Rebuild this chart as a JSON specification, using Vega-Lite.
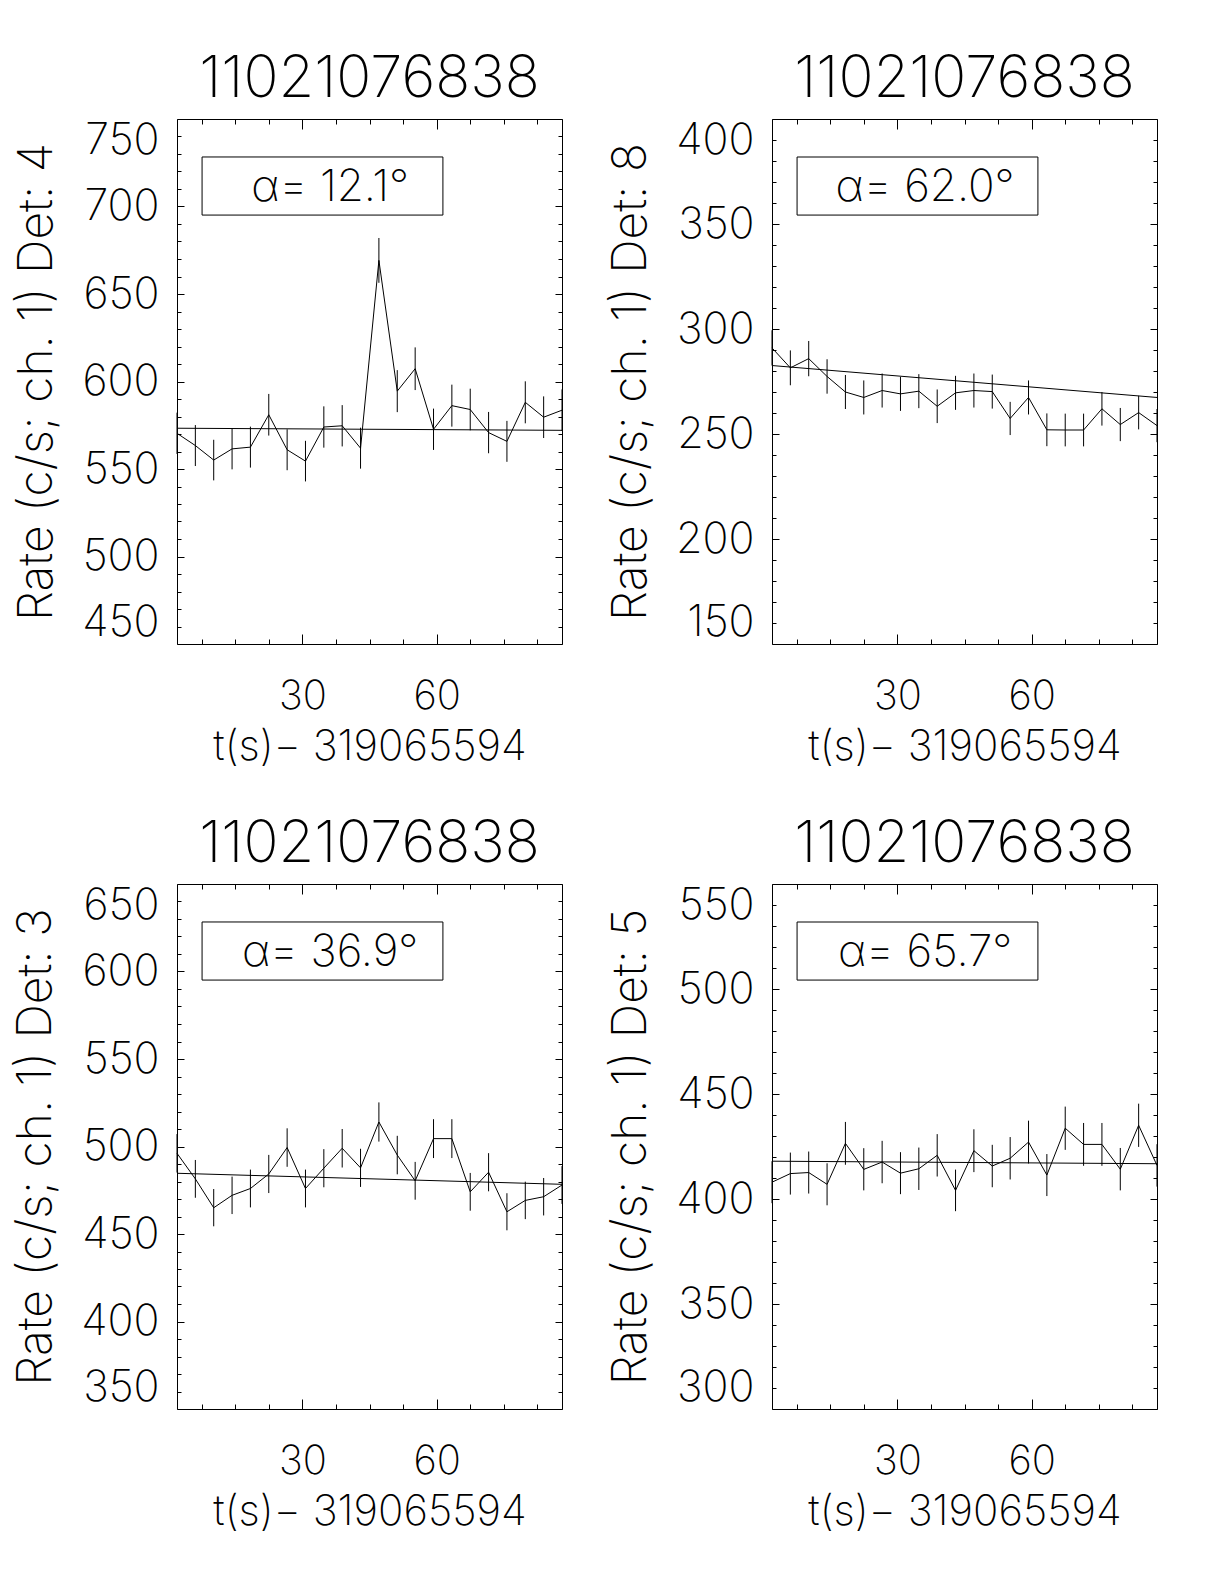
{
  "$schema": "https://vega.github.io/schema/vega-lite/v6.json",
  "background": "white",
  "padding": {"left": 12, "top": 50, "right": 5, "bottom": 5},
  "datasets": {
    "p1": [
      {"t": 2.0, "rate": 570.4, "lo": 558.6, "hi": 582.2},
      {"t": 6.1, "rate": 563.4, "lo": 551.7, "hi": 575.1},
      {"t": 10.2, "rate": 555.1, "lo": 543.5, "hi": 566.7},
      {"t": 14.3, "rate": 561.5, "lo": 549.8, "hi": 573.2},
      {"t": 18.4, "rate": 562.5, "lo": 550.8, "hi": 574.2},
      {"t": 22.5, "rate": 581.0, "lo": 569.1, "hi": 592.9},
      {"t": 26.6, "rate": 561.0, "lo": 549.3, "hi": 572.7},
      {"t": 30.7, "rate": 554.5, "lo": 542.9, "hi": 566.1},
      {"t": 34.8, "rate": 574.0, "lo": 562.2, "hi": 585.8},
      {"t": 38.9, "rate": 574.7, "lo": 562.9, "hi": 586.5},
      {"t": 43.0, "rate": 561.9, "lo": 550.2, "hi": 573.6},
      {"t": 47.1, "rate": 669.2, "lo": 656.4, "hi": 682.0},
      {"t": 51.2, "rate": 594.5, "lo": 582.5, "hi": 606.5},
      {"t": 55.2, "rate": 607.3, "lo": 595.1, "hi": 619.5},
      {"t": 59.3, "rate": 572.7, "lo": 560.9, "hi": 584.5},
      {"t": 63.4, "rate": 586.2, "lo": 574.2, "hi": 598.2},
      {"t": 67.5, "rate": 584.0, "lo": 572.1, "hi": 595.9},
      {"t": 71.6, "rate": 570.8, "lo": 559.0, "hi": 582.6},
      {"t": 75.7, "rate": 565.8, "lo": 554.1, "hi": 577.5},
      {"t": 79.8, "rate": 588.1, "lo": 576.1, "hi": 600.1},
      {"t": 83.9, "rate": 579.6, "lo": 567.7, "hi": 591.5},
      {"t": 88.0, "rate": 583.6, "lo": 571.7, "hi": 595.5}
    ],
    "p2": [
      {"t": 2.0, "rate": 291.0, "lo": 282.6, "hi": 299.4},
      {"t": 6.1, "rate": 281.5, "lo": 273.2, "hi": 289.8},
      {"t": 10.2, "rate": 285.9, "lo": 277.5, "hi": 294.3},
      {"t": 14.3, "rate": 277.4, "lo": 269.2, "hi": 285.6},
      {"t": 18.4, "rate": 270.0, "lo": 261.9, "hi": 278.1},
      {"t": 22.5, "rate": 267.4, "lo": 259.3, "hi": 275.5},
      {"t": 26.6, "rate": 270.7, "lo": 262.6, "hi": 278.8},
      {"t": 30.7, "rate": 269.1, "lo": 261.0, "hi": 277.2},
      {"t": 34.8, "rate": 270.4, "lo": 262.3, "hi": 278.5},
      {"t": 38.9, "rate": 263.2, "lo": 255.2, "hi": 271.2},
      {"t": 43.0, "rate": 269.6, "lo": 261.5, "hi": 277.7},
      {"t": 47.1, "rate": 270.7, "lo": 262.6, "hi": 278.8},
      {"t": 51.2, "rate": 270.2, "lo": 262.1, "hi": 278.3},
      {"t": 55.2, "rate": 257.4, "lo": 249.5, "hi": 265.3},
      {"t": 59.3, "rate": 267.4, "lo": 259.3, "hi": 275.5},
      {"t": 63.4, "rate": 252.0, "lo": 244.2, "hi": 259.8},
      {"t": 67.5, "rate": 251.9, "lo": 244.1, "hi": 259.7},
      {"t": 71.6, "rate": 251.9, "lo": 244.1, "hi": 259.7},
      {"t": 75.7, "rate": 262.0, "lo": 254.0, "hi": 270.0},
      {"t": 79.8, "rate": 254.5, "lo": 246.6, "hi": 262.4},
      {"t": 83.9, "rate": 260.2, "lo": 252.2, "hi": 268.2},
      {"t": 88.0, "rate": 254.0, "lo": 246.1, "hi": 261.9}
    ],
    "p3": [
      {"t": 2.0, "rate": 496.1, "lo": 485.1, "hi": 507.1},
      {"t": 6.1, "rate": 481.5, "lo": 470.7, "hi": 492.3},
      {"t": 10.2, "rate": 465.0, "lo": 454.4, "hi": 475.7},
      {"t": 14.3, "rate": 472.1, "lo": 461.4, "hi": 482.8},
      {"t": 18.4, "rate": 476.0, "lo": 465.2, "hi": 486.8},
      {"t": 22.5, "rate": 484.3, "lo": 473.4, "hi": 495.2},
      {"t": 26.6, "rate": 499.4, "lo": 488.4, "hi": 510.4},
      {"t": 30.7, "rate": 476.0, "lo": 465.2, "hi": 486.8},
      {"t": 34.8, "rate": 487.6, "lo": 476.7, "hi": 498.5},
      {"t": 38.9, "rate": 499.0, "lo": 488.0, "hi": 510.0},
      {"t": 43.0, "rate": 487.8, "lo": 476.9, "hi": 498.7},
      {"t": 47.1, "rate": 514.0, "lo": 502.8, "hi": 525.2},
      {"t": 51.2, "rate": 495.1, "lo": 484.1, "hi": 506.1},
      {"t": 55.2, "rate": 480.4, "lo": 469.6, "hi": 491.2},
      {"t": 59.3, "rate": 504.5, "lo": 493.4, "hi": 515.6},
      {"t": 63.4, "rate": 504.5, "lo": 493.4, "hi": 515.6},
      {"t": 67.5, "rate": 474.1, "lo": 463.3, "hi": 484.9},
      {"t": 71.6, "rate": 485.3, "lo": 474.4, "hi": 496.2},
      {"t": 75.7, "rate": 462.7, "lo": 452.1, "hi": 473.3},
      {"t": 79.8, "rate": 469.2, "lo": 458.5, "hi": 479.9},
      {"t": 83.9, "rate": 471.3, "lo": 460.6, "hi": 482.0},
      {"t": 88.0, "rate": 478.0, "lo": 467.2, "hi": 488.8}
    ],
    "p4": [
      {"t": 2.0, "rate": 408.0, "lo": 398.0, "hi": 418.0},
      {"t": 6.1, "rate": 412.1, "lo": 402.1, "hi": 422.1},
      {"t": 10.2, "rate": 412.6, "lo": 402.6, "hi": 422.6},
      {"t": 14.3, "rate": 407.0, "lo": 397.0, "hi": 417.0},
      {"t": 18.4, "rate": 426.5, "lo": 416.3, "hi": 436.7},
      {"t": 22.5, "rate": 414.1, "lo": 404.1, "hi": 424.2},
      {"t": 26.6, "rate": 417.6, "lo": 407.5, "hi": 427.7},
      {"t": 30.7, "rate": 412.3, "lo": 402.3, "hi": 422.3},
      {"t": 34.8, "rate": 414.4, "lo": 404.3, "hi": 424.5},
      {"t": 38.9, "rate": 420.8, "lo": 410.7, "hi": 430.9},
      {"t": 43.0, "rate": 404.1, "lo": 394.2, "hi": 414.0},
      {"t": 47.1, "rate": 423.0, "lo": 412.8, "hi": 433.2},
      {"t": 51.2, "rate": 415.7, "lo": 405.6, "hi": 425.8},
      {"t": 55.2, "rate": 419.4, "lo": 409.3, "hi": 429.5},
      {"t": 59.3, "rate": 427.1, "lo": 416.9, "hi": 437.3},
      {"t": 63.4, "rate": 411.4, "lo": 401.4, "hi": 421.4},
      {"t": 67.5, "rate": 433.7, "lo": 423.4, "hi": 444.0},
      {"t": 71.6, "rate": 426.0, "lo": 415.8, "hi": 436.2},
      {"t": 75.7, "rate": 426.0, "lo": 415.8, "hi": 436.2},
      {"t": 79.8, "rate": 414.2, "lo": 404.1, "hi": 424.3},
      {"t": 83.9, "rate": 435.1, "lo": 424.8, "hi": 445.4},
      {"t": 88.0, "rate": 416.0, "lo": 405.9, "hi": 426.1}
    ],
    "f1": [{"t": 2.0, "v": 573.3}, {"t": 88.0, "v": 572.1}],
    "f2": [{"t": 2.0, "v": 282.6}, {"t": 88.0, "v": 267.4}],
    "f3": [{"t": 2.0, "v": 484.7}, {"t": 88.0, "v": 478.4}],
    "f4": [{"t": 2.0, "v": 418.0}, {"t": 88.0, "v": 416.8}]
  },
  "config": {
    "view": {"stroke": "#000", "strokeWidth": 1},
    "axis": {"domain": false, "grid": false, "tickColor": "#000", "tickWidth": 1, "labelColor": "#000", "titleColor": "#000", "labelFont": "Inter", "titleFont": "Inter", "labelFontWeight": 200, "titleFontWeight": 200, "labelFontSize": 43, "titleFontSize": 48},
    "axisBottom": {"labelFontSize": 40, "titleFontSize": 42},
    "title": {"font": "Inter", "fontWeight": 200, "fontSize": 58, "color": "#000", "anchor": "middle", "frame": "group", "offset": 10},
    "text": {"font": "Inter", "fontWeight": 200, "fontSize": 44, "color": "#000"}
  },
  "vconcat": [
    {"hconcat": [
      {"width": 385, "height": 525, "title": "11021076838", "data": {"name": "p1"},
       "resolve": {"axis": {"x": "independent", "y": "independent"}},
       "layer": [
        {"mark": {"type": "line", "color": "#000", "strokeWidth": 1},
         "encoding": {
          "x": {"field": "t", "type": "quantitative", "scale": {"domain": [2, 88], "nice": false, "zero": false}, "axis": {"orient": "bottom", "values": [30, 60], "tickSize": -10, "labelPadding": 42, "title": "t(s)− 319065594", "titlePadding": 10}},
          "y": {"field": "rate", "type": "quantitative", "scale": {"domain": [450, 750], "nice": false, "zero": false}, "axis": {"orient": "left", "values": [450, 500, 550, 600, 650, 700, 750], "tickSize": -7, "labelPadding": 25, "labelFlush": true, "title": "Rate (c/s; ch. 1) Det: 4", "titlePadding": 20}}}},
        {"mark": {"type": "rule", "color": "#000", "strokeWidth": 1},
         "encoding": {
          "x": {"field": "t", "type": "quantitative", "scale": {"domain": [2, 88], "nice": false, "zero": false}, "axis": {"orient": "bottom", "values": [7.5, 15, 22.5, 37.5, 45, 52.5, 67.5, 75, 82.5], "tickSize": -5, "labels": false, "title": null}},
          "y": {"field": "lo", "type": "quantitative", "scale": {"domain": [450, 750], "nice": false, "zero": false}, "axis": {"orient": "left", "values": [460, 470, 480, 490, 510, 520, 530, 540, 560, 570, 580, 590, 610, 620, 630, 640, 660, 670, 680, 690, 710, 720, 730, 740], "tickSize": -4, "labels": false, "title": null}},
          "y2": {"field": "hi"}}},
        {"data": {"name": "f1"}, "mark": {"type": "line", "color": "#000", "strokeWidth": 1},
         "encoding": {
          "x": {"field": "t", "type": "quantitative", "scale": {"domain": [2, 88], "nice": false, "zero": false}, "axis": {"orient": "top", "values": [30, 60], "tickSize": -10, "labels": false, "title": null}},
          "y": {"field": "v", "type": "quantitative", "scale": {"domain": [450, 750], "nice": false, "zero": false}, "axis": {"orient": "right", "values": [450, 500, 550, 600, 650, 700, 750], "tickSize": -7, "labels": false, "title": null}}}},
        {"data": {"values": [{"label": "box"}]}, "mark": {"type": "rect", "fill": "white", "fillOpacity": 0, "stroke": "#000", "strokeWidth": 1},
         "encoding": {
          "x": {"datum": 7.6, "type": "quantitative", "scale": {"domain": [2, 88], "nice": false, "zero": false}, "axis": {"orient": "top", "values": [7.5, 15, 22.5, 37.5, 45, 52.5, 67.5, 75, 82.5], "tickSize": -5, "labels": false, "title": null}},
          "x2": {"datum": 61.4},
          "y": {"datum": 728.3, "type": "quantitative", "scale": {"domain": [450, 750], "nice": false, "zero": false}, "axis": {"orient": "right", "values": [460, 470, 480, 490, 510, 520, 530, 540, 560, 570, 580, 590, 610, 620, 630, 640, 660, 670, 680, 690, 710, 720, 730, 740], "tickSize": -4, "labels": false, "title": null}},
          "y2": {"datum": 695.1}}},
        {"data": {"values": [{"label": "α= 12.1°"}]}, "mark": {"type": "text", "align": "center", "baseline": "middle"},
         "encoding": {
          "x": {"datum": 36.2, "type": "quantitative", "scale": {"domain": [2, 88], "nice": false, "zero": false}, "axis": null},
          "y": {"datum": 710.4, "type": "quantitative", "scale": {"domain": [450, 750], "nice": false, "zero": false}, "axis": null},
          "text": {"field": "label"}}}
       ]},
      {"width": 385, "height": 525, "title": "11021076838", "data": {"name": "p2"},
       "resolve": {"axis": {"x": "independent", "y": "independent"}},
       "layer": [
        {"mark": {"type": "line", "color": "#000", "strokeWidth": 1},
         "encoding": {
          "x": {"field": "t", "type": "quantitative", "scale": {"domain": [2, 88], "nice": false, "zero": false}, "axis": {"orient": "bottom", "values": [30, 60], "tickSize": -10, "labelPadding": 42, "title": "t(s)− 319065594", "titlePadding": 10}},
          "y": {"field": "rate", "type": "quantitative", "scale": {"domain": [150, 400], "nice": false, "zero": false}, "axis": {"orient": "left", "values": [150, 200, 250, 300, 350, 400], "tickSize": -7, "labelPadding": 25, "labelFlush": true, "title": "Rate (c/s; ch. 1) Det: 8", "titlePadding": 20}}}},
        {"mark": {"type": "rule", "color": "#000", "strokeWidth": 1},
         "encoding": {
          "x": {"field": "t", "type": "quantitative", "scale": {"domain": [2, 88], "nice": false, "zero": false}, "axis": {"orient": "bottom", "values": [7.5, 15, 22.5, 37.5, 45, 52.5, 67.5, 75, 82.5], "tickSize": -5, "labels": false, "title": null}},
          "y": {"field": "lo", "type": "quantitative", "scale": {"domain": [150, 400], "nice": false, "zero": false}, "axis": {"orient": "left", "values": [160, 170, 180, 190, 210, 220, 230, 240, 260, 270, 280, 290, 310, 320, 330, 340, 360, 370, 380, 390], "tickSize": -4, "labels": false, "title": null}},
          "y2": {"field": "hi"}}},
        {"data": {"name": "f2"}, "mark": {"type": "line", "color": "#000", "strokeWidth": 1},
         "encoding": {
          "x": {"field": "t", "type": "quantitative", "scale": {"domain": [2, 88], "nice": false, "zero": false}, "axis": {"orient": "top", "values": [30, 60], "tickSize": -10, "labels": false, "title": null}},
          "y": {"field": "v", "type": "quantitative", "scale": {"domain": [150, 400], "nice": false, "zero": false}, "axis": {"orient": "right", "values": [150, 200, 250, 300, 350, 400], "tickSize": -7, "labels": false, "title": null}}}},
        {"data": {"values": [{"label": "box"}]}, "mark": {"type": "rect", "fill": "white", "fillOpacity": 0, "stroke": "#000", "strokeWidth": 1},
         "encoding": {
          "x": {"datum": 7.6, "type": "quantitative", "scale": {"domain": [2, 88], "nice": false, "zero": false}, "axis": {"orient": "top", "values": [7.5, 15, 22.5, 37.5, 45, 52.5, 67.5, 75, 82.5], "tickSize": -5, "labels": false, "title": null}},
          "x2": {"datum": 61.4},
          "y": {"datum": 381.9, "type": "quantitative", "scale": {"domain": [150, 400], "nice": false, "zero": false}, "axis": {"orient": "right", "values": [160, 170, 180, 190, 210, 220, 230, 240, 260, 270, 280, 290, 310, 320, 330, 340, 360, 370, 380, 390], "tickSize": -4, "labels": false, "title": null}},
          "y2": {"datum": 354.25}}},
        {"data": {"values": [{"label": "α= 62.0°"}]}, "mark": {"type": "text", "align": "center", "baseline": "middle"},
         "encoding": {
          "x": {"datum": 36.2, "type": "quantitative", "scale": {"domain": [2, 88], "nice": false, "zero": false}, "axis": null},
          "y": {"datum": 367.0, "type": "quantitative", "scale": {"domain": [150, 400], "nice": false, "zero": false}, "axis": null},
          "text": {"field": "label"}}}
       ]}
    ], "spacing": 42},
    {"hconcat": [
      {"width": 385, "height": 525, "title": "11021076838", "data": {"name": "p3"},
       "resolve": {"axis": {"x": "independent", "y": "independent"}},
       "layer": [
        {"mark": {"type": "line", "color": "#000", "strokeWidth": 1},
         "encoding": {
          "x": {"field": "t", "type": "quantitative", "scale": {"domain": [2, 88], "nice": false, "zero": false}, "axis": {"orient": "bottom", "values": [30, 60], "tickSize": -10, "labelPadding": 42, "title": "t(s)− 319065594", "titlePadding": 10}},
          "y": {"field": "rate", "type": "quantitative", "scale": {"domain": [350, 650], "nice": false, "zero": false}, "axis": {"orient": "left", "values": [350, 400, 450, 500, 550, 600, 650], "tickSize": -7, "labelPadding": 25, "labelFlush": true, "title": "Rate (c/s; ch. 1) Det: 3", "titlePadding": 20}}}},
        {"mark": {"type": "rule", "color": "#000", "strokeWidth": 1},
         "encoding": {
          "x": {"field": "t", "type": "quantitative", "scale": {"domain": [2, 88], "nice": false, "zero": false}, "axis": {"orient": "bottom", "values": [7.5, 15, 22.5, 37.5, 45, 52.5, 67.5, 75, 82.5], "tickSize": -5, "labels": false, "title": null}},
          "y": {"field": "lo", "type": "quantitative", "scale": {"domain": [350, 650], "nice": false, "zero": false}, "axis": {"orient": "left", "values": [360, 370, 380, 390, 410, 420, 430, 440, 460, 470, 480, 490, 510, 520, 530, 540, 560, 570, 580, 590, 610, 620, 630, 640], "tickSize": -4, "labels": false, "title": null}},
          "y2": {"field": "hi"}}},
        {"data": {"name": "f3"}, "mark": {"type": "line", "color": "#000", "strokeWidth": 1},
         "encoding": {
          "x": {"field": "t", "type": "quantitative", "scale": {"domain": [2, 88], "nice": false, "zero": false}, "axis": {"orient": "top", "values": [30, 60], "tickSize": -10, "labels": false, "title": null}},
          "y": {"field": "v", "type": "quantitative", "scale": {"domain": [350, 650], "nice": false, "zero": false}, "axis": {"orient": "right", "values": [350, 400, 450, 500, 550, 600, 650], "tickSize": -7, "labels": false, "title": null}}}},
        {"data": {"values": [{"label": "box"}]}, "mark": {"type": "rect", "fill": "white", "fillOpacity": 0, "stroke": "#000", "strokeWidth": 1},
         "encoding": {
          "x": {"datum": 7.6, "type": "quantitative", "scale": {"domain": [2, 88], "nice": false, "zero": false}, "axis": {"orient": "top", "values": [7.5, 15, 22.5, 37.5, 45, 52.5, 67.5, 75, 82.5], "tickSize": -5, "labels": false, "title": null}},
          "x2": {"datum": 61.4},
          "y": {"datum": 628.3, "type": "quantitative", "scale": {"domain": [350, 650], "nice": false, "zero": false}, "axis": {"orient": "right", "values": [360, 370, 380, 390, 410, 420, 430, 440, 460, 470, 480, 490, 510, 520, 530, 540, 560, 570, 580, 590, 610, 620, 630, 640], "tickSize": -4, "labels": false, "title": null}},
          "y2": {"datum": 595.1}}},
        {"data": {"values": [{"label": "α= 36.9°"}]}, "mark": {"type": "text", "align": "center", "baseline": "middle"},
         "encoding": {
          "x": {"datum": 36.2, "type": "quantitative", "scale": {"domain": [2, 88], "nice": false, "zero": false}, "axis": null},
          "y": {"datum": 610.4, "type": "quantitative", "scale": {"domain": [350, 650], "nice": false, "zero": false}, "axis": null},
          "text": {"field": "label"}}}
       ]},
      {"width": 385, "height": 525, "title": "11021076838", "data": {"name": "p4"},
       "resolve": {"axis": {"x": "independent", "y": "independent"}},
       "layer": [
        {"mark": {"type": "line", "color": "#000", "strokeWidth": 1},
         "encoding": {
          "x": {"field": "t", "type": "quantitative", "scale": {"domain": [2, 88], "nice": false, "zero": false}, "axis": {"orient": "bottom", "values": [30, 60], "tickSize": -10, "labelPadding": 42, "title": "t(s)− 319065594", "titlePadding": 10}},
          "y": {"field": "rate", "type": "quantitative", "scale": {"domain": [300, 550], "nice": false, "zero": false}, "axis": {"orient": "left", "values": [300, 350, 400, 450, 500, 550], "tickSize": -7, "labelPadding": 25, "labelFlush": true, "title": "Rate (c/s; ch. 1) Det: 5", "titlePadding": 20}}}},
        {"mark": {"type": "rule", "color": "#000", "strokeWidth": 1},
         "encoding": {
          "x": {"field": "t", "type": "quantitative", "scale": {"domain": [2, 88], "nice": false, "zero": false}, "axis": {"orient": "bottom", "values": [7.5, 15, 22.5, 37.5, 45, 52.5, 67.5, 75, 82.5], "tickSize": -5, "labels": false, "title": null}},
          "y": {"field": "lo", "type": "quantitative", "scale": {"domain": [300, 550], "nice": false, "zero": false}, "axis": {"orient": "left", "values": [310, 320, 330, 340, 360, 370, 380, 390, 410, 420, 430, 440, 460, 470, 480, 490, 510, 520, 530, 540], "tickSize": -4, "labels": false, "title": null}},
          "y2": {"field": "hi"}}},
        {"data": {"name": "f4"}, "mark": {"type": "line", "color": "#000", "strokeWidth": 1},
         "encoding": {
          "x": {"field": "t", "type": "quantitative", "scale": {"domain": [2, 88], "nice": false, "zero": false}, "axis": {"orient": "top", "values": [30, 60], "tickSize": -10, "labels": false, "title": null}},
          "y": {"field": "v", "type": "quantitative", "scale": {"domain": [300, 550], "nice": false, "zero": false}, "axis": {"orient": "right", "values": [300, 350, 400, 450, 500, 550], "tickSize": -7, "labels": false, "title": null}}}},
        {"data": {"values": [{"label": "box"}]}, "mark": {"type": "rect", "fill": "white", "fillOpacity": 0, "stroke": "#000", "strokeWidth": 1},
         "encoding": {
          "x": {"datum": 7.6, "type": "quantitative", "scale": {"domain": [2, 88], "nice": false, "zero": false}, "axis": {"orient": "top", "values": [7.5, 15, 22.5, 37.5, 45, 52.5, 67.5, 75, 82.5], "tickSize": -5, "labels": false, "title": null}},
          "x2": {"datum": 61.4},
          "y": {"datum": 531.9, "type": "quantitative", "scale": {"domain": [300, 550], "nice": false, "zero": false}, "axis": {"orient": "right", "values": [310, 320, 330, 340, 360, 370, 380, 390, 410, 420, 430, 440, 460, 470, 480, 490, 510, 520, 530, 540], "tickSize": -4, "labels": false, "title": null}},
          "y2": {"datum": 504.25}}},
        {"data": {"values": [{"label": "α= 65.7°"}]}, "mark": {"type": "text", "align": "center", "baseline": "middle"},
         "encoding": {
          "x": {"datum": 36.2, "type": "quantitative", "scale": {"domain": [2, 88], "nice": false, "zero": false}, "axis": null},
          "y": {"datum": 517.0, "type": "quantitative", "scale": {"domain": [300, 550], "nice": false, "zero": false}, "axis": null},
          "text": {"field": "label"}}}
       ]}
    ], "spacing": 42}
  ],
  "spacing": 47
}
